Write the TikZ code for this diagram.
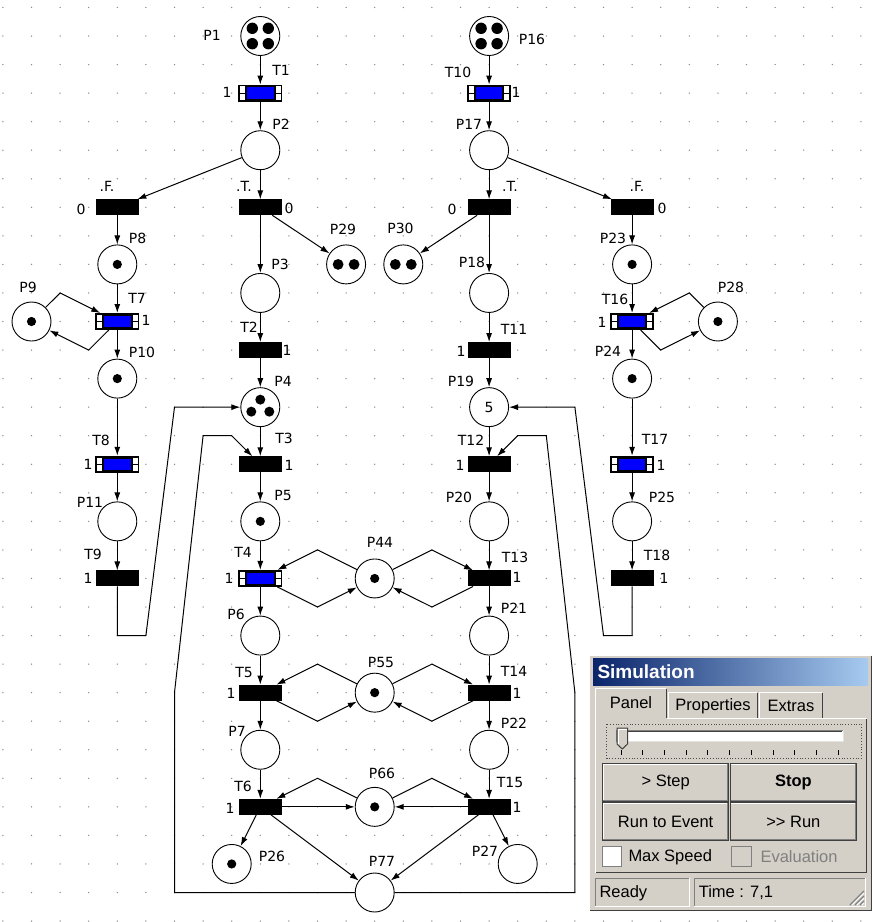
\documentclass[tikz,border=0pt]{standalone}
\usepackage{fontspec}
\newfontfamily\netfont{DejaVu Sans}
\newfontfamily\uifont{Liberation Sans}
\usetikzlibrary{arrows.meta}
\definecolor{tokblue}{RGB}{0,0,255}
\definecolor{panelbg}{RGB}{212,208,200}
\definecolor{titleL}{RGB}{10,36,106}
\definecolor{titleR}{RGB}{166,202,240}
\definecolor{shadowc}{RGB}{64,64,64}
\definecolor{midshadow}{RGB}{128,128,128}
\definecolor{griddot}{RGB}{140,140,140}
\begin{document}
\begin{tikzpicture}[x=1pt,y=-1pt,line width=1pt,
  arc/.style={-{Latex[length=9pt,width=6pt]}},
  place/.style={circle,draw,fill=white,minimum size=39pt,inner sep=0pt,line width=0.9pt,font=\netfont\fontsize{14}{16}\selectfont},
  trans/.style={rectangle,draw,fill=black,minimum width=42pt,minimum height=15pt,inner sep=0pt},
  tblue/.style={rectangle,draw,fill=black,minimum width=43pt,minimum height=16pt,inner sep=0pt,
    path picture={
      \fill[white] ([xshift=1.3pt,yshift=1.3pt]path picture bounding box.south west) rectangle ([xshift=6.3pt,yshift=-0.6pt]path picture bounding box.west);
      \fill[white] ([xshift=1.3pt,yshift=0.6pt]path picture bounding box.west) rectangle ([xshift=6.3pt,yshift=-1.3pt]path picture bounding box.north west);
      \fill[white] ([xshift=-1.3pt,yshift=1.3pt]path picture bounding box.south east) rectangle ([xshift=-6.3pt,yshift=-0.6pt]path picture bounding box.east);
      \fill[white] ([xshift=-1.3pt,yshift=0.6pt]path picture bounding box.east) rectangle ([xshift=-6.3pt,yshift=-1.3pt]path picture bounding box.north east);
      \fill[tokblue] ([xshift=8.3pt,yshift=2.3pt]path picture bounding box.south west) rectangle ([xshift=-8.3pt,yshift=-2.3pt]path picture bounding box.north east);
    }},
  tok1/.style={path picture={\fill[black] (path picture bounding box.center) circle (4.6pt);}},
  tok2/.style={path picture={\fill[black] ([xshift=-8pt]path picture bounding box.center) circle (5.4pt);
     \fill[black] ([xshift=8pt]path picture bounding box.center) circle (5.4pt);}},
  tok3/.style={path picture={\fill[black] ([yshift=7.5pt]path picture bounding box.center) circle (5pt);
     \fill[black] ([xshift=-9pt,yshift=-4.5pt]path picture bounding box.center) circle (5pt);
     \fill[black] ([xshift=9pt,yshift=-4.5pt]path picture bounding box.center) circle (5pt);}},
  tok4/.style={path picture={\fill[black] ([xshift=-8pt,yshift=7.7pt]path picture bounding box.center) circle (5.7pt);
     \fill[black] ([xshift=8pt,yshift=7.7pt]path picture bounding box.center) circle (5.7pt);
     \fill[black] ([xshift=-8pt,yshift=-7.7pt]path picture bounding box.center) circle (5.7pt);
     \fill[black] ([xshift=8pt,yshift=-7.7pt]path picture bounding box.center) circle (5.7pt);}},
  lbl/.style={font=\netfont\fontsize{14}{16}\selectfont,inner sep=0pt},
  ui/.style={font=\uifont\fontsize{16.5}{19}\selectfont,inner sep=0pt},
  btn/.style={rectangle,fill=panelbg,draw=shadowc,line width=1pt,inner sep=0pt,
    minimum width=126.5pt,minimum height=38.2pt,font=\uifont\fontsize{16.5}{19}\selectfont,
    path picture={
      \draw[white,line width=2.6pt] (path picture bounding box.south west) -- (path picture bounding box.north west) -- (path picture bounding box.north east);
      \draw[midshadow,line width=3.6pt] (path picture bounding box.north east) -- (path picture bounding box.south east) -- (path picture bounding box.south west);
    }}
]
\useasboundingbox[fill=white] (0,0) rectangle (873,922);
% grid dots
\foreach \c in {-9,...,21} {\foreach \r in {-1,...,31} {
  \fill[griddot] ({260.3+28.6*\c},{36+28.55*\r}) circle (0.75pt);}}

% ---------- places ----------
\node[place,tok4] (P1) at (260.3,36) {};
\node[place] (P2) at (260.3,150.2) {};
\node[place] (P3) at (260.3,292.95) {};
\node[place,tok3] (P4) at (260.3,407.15) {};
\node[place,tok1] (P5) at (260.3,521.35) {};
\node[place] (P6) at (260.3,635.55) {};
\node[place] (P7) at (260.3,749.75) {};
\node[place,tok1] (P8) at (117.3,264.4) {};
\node[place,tok1] (P9) at (31.5,321.5) {};
\node[place,tok1] (P10) at (117.3,378.6) {};
\node[place] (P11) at (117.3,521.35) {};
\node[place,tok4] (P16) at (489.1,36) {};
\node[place] (P17) at (489.1,150.2) {};
\node[place] (P18) at (489.1,292.95) {};
\node[place] (P19) at (489.1,407.15) {5};
\node[place] (P20) at (489.1,521.35) {};
\node[place] (P21) at (489.1,635.55) {};
\node[place] (P22) at (489.1,749.75) {};
\node[place,tok1] (P23) at (632.1,264.4) {};
\node[place,tok1] (P24) at (632.1,378.6) {};
\node[place] (P25) at (632.1,521.35) {};
\node[place,tok1] (P26) at (231.7,863.95) {};
\node[place] (P27) at (517.7,863.95) {};
\node[place,tok1] (P28) at (717.9,321.5) {};
\node[place,tok2] (P29) at (346.1,264.4) {};
\node[place,tok2] (P30) at (403.3,264.4) {};
\node[place,tok1] (P44) at (374.7,578.45) {};
\node[place,tok1] (P55) at (374.7,692.65) {};
\node[place,tok1] (P66) at (374.7,806.85) {};
\node[place] (P77) at (374.7,892.5) {};

% ---------- transitions ----------
\node[tblue] (T1) at (260.3,93.1) {};
\node[tblue] (T10) at (489.1,93.1) {};
\node[trans] (TT1) at (260.3,207.3) {};
\node[trans] (TF1) at (117.3,207.3) {};
\node[trans] (TT2) at (489.1,207.3) {};
\node[trans] (TF2) at (632.1,207.3) {};
\node[tblue] (T7) at (117.3,321.5) {};
\node[tblue] (T16) at (632.1,321.5) {};
\node[trans] (T2) at (260.3,350.05) {};
\node[trans] (T11) at (489.1,350.05) {};
\node[tblue] (T8) at (117.3,464.25) {};
\node[tblue] (T17) at (632.1,464.25) {};
\node[trans] (T3) at (260.3,464.25) {};
\node[trans] (T12) at (489.1,464.25) {};
\node[trans] (T9) at (117.3,578.45) {};
\node[trans] (T18) at (632.1,578.45) {};
\node[tblue] (T4) at (260.3,578.45) {};
\node[trans] (T13) at (489.1,578.45) {};
\node[trans] (T5) at (260.3,692.65) {};
\node[trans] (T14) at (489.1,692.65) {};
\node[trans] (T6) at (260.3,806.85) {};
\node[trans] (T15) at (489.1,806.85) {};

% ---------- bend points ----------
\coordinate (a1) at (117.3,635.55);
\coordinate (a2) at (145.9,635.55);
\coordinate (a3) at (174.5,407.15);
\coordinate (b1) at (632.1,635.55);
\coordinate (b2) at (603.5,635.55);
\coordinate (b3) at (574.9,407.15);
\coordinate (c1) at (174.5,892.5);
\coordinate (c2) at (174.5,692.65);
\coordinate (c3) at (203.1,435.7);
\coordinate (c4) at (231.7,435.7);
\coordinate (d1) at (574.9,892.5);
\coordinate (d2) at (574.9,692.65);
\coordinate (d3) at (546.3,435.7);
\coordinate (d4) at (517.7,435.7);
\coordinate (e1) at (60.1,292.95);
\coordinate (e2) at (88.7,350.05);
\coordinate (f1) at (689.3,292.95);
\coordinate (f2) at (660.7,350.05);
\coordinate (g1) at (317.5,549.9);
\coordinate (g2) at (317.5,607);
\coordinate (g3) at (431.9,549.9);
\coordinate (g4) at (431.9,607);
\coordinate (h1) at (317.5,664.1);
\coordinate (h2) at (317.5,721.2);
\coordinate (h3) at (431.9,664.1);
\coordinate (h4) at (431.9,721.2);
\coordinate (k1) at (317.5,778.3);
\coordinate (k2) at (431.9,778.3);

% ---------- arcs: left half ----------
\draw[arc] (P1) -- (T1);
\draw[arc] (T1) -- (P2);
\draw[arc] (P2) -- (TT1);
\draw[arc] (P2) -- (TF1);
\draw[arc] (TT1) -- (P3);
\draw[arc] (TT1) -- (P29);
\draw[arc] (P3) -- (T2);
\draw[arc] (T2) -- (P4);
\draw[arc] (P4) -- (T3);
\draw[arc] (T3) -- (P5);
\draw[arc] (P5) -- (T4);
\draw[arc] (T4) -- (P6);
\draw[arc] (P6) -- (T5);
\draw[arc] (T5) -- (P7);
\draw[arc] (P7) -- (T6);
\draw[arc] (T6) -- (P26);
\draw[arc] (T6) -- (P77);
\draw[arc] (T6) -- (P66);
\draw[arc] (TF1) -- (P8);
\draw[arc] (P8) -- (T7);
\draw[arc] (T7) -- (P10);
\draw[arc] (P10) -- (T8);
\draw[arc] (T8) -- (P11);
\draw[arc] (P11) -- (T9);
\draw[arc] (T9) -- (a1) -- (a2) -- (a3) -- (P4);
\draw[arc] (P9) -- (e1) -- (T7);
\draw[arc] (T7) -- (e2) -- (P9);
\draw[arc] (P77) -- (c1) -- (c2) -- (c3) -- (c4) -- (T3);
% ---------- arcs: right half ----------
\draw[arc] (P16) -- (T10);
\draw[arc] (T10) -- (P17);
\draw[arc] (P17) -- (TT2);
\draw[arc] (P17) -- (TF2);
\draw[arc] (TT2) -- (P18);
\draw[arc] (TT2) -- (P30);
\draw[arc] (P18) -- (T11);
\draw[arc] (T11) -- (P19);
\draw[arc] (P19) -- (T12);
\draw[arc] (T12) -- (P20);
\draw[arc] (P20) -- (T13);
\draw[arc] (T13) -- (P21);
\draw[arc] (P21) -- (T14);
\draw[arc] (T14) -- (P22);
\draw[arc] (P22) -- (T15);
\draw[arc] (T15) -- (P27);
\draw[arc] (T15) -- (P77);
\draw[arc] (T15) -- (P66);
\draw[arc] (TF2) -- (P23);
\draw[arc] (P23) -- (T16);
\draw[arc] (T16) -- (P24);
\draw[arc] (P24) -- (T17);
\draw[arc] (T17) -- (P25);
\draw[arc] (P25) -- (T18);
\draw[arc] (T18) -- (b1) -- (b2) -- (b3) -- (P19);
\draw[arc] (P28) -- (f1) -- (T16);
\draw[arc] (T16) -- (f2) -- (P28);
\draw[arc] (P77) -- (d1) -- (d2) -- (d3) -- (d4) -- (T12);
% ---------- shared places ----------
\draw[arc] (P44) -- (g1) -- (T4);
\draw[arc] (T4) -- (g2) -- (P44);
\draw[arc] (P44) -- (g3) -- (T13);
\draw[arc] (T13) -- (g4) -- (P44);
\draw[arc] (P55) -- (h1) -- (T5);
\draw[arc] (T5) -- (h2) -- (P55);
\draw[arc] (P55) -- (h3) -- (T14);
\draw[arc] (T14) -- (h4) -- (P55);
\draw[arc] (P66) -- (k1) -- (T6);
\draw[arc] (P66) -- (k2) -- (T15);

% ---------- labels ----------
\node[lbl] (lP1) at (212,35) {P1};
\node[lbl] (lT1) at (281,70) {T1};
\node[lbl] (lT1n) at (227,92) {1};
\node[lbl] (lP2) at (281,124) {P2};
\node[lbl] (lP16) at (532,39) {P16};
\node[lbl] (lT10) at (458,72) {T10};
\node[lbl] (lT10n) at (516,92) {1};
\node[lbl] (lP17) at (469,124) {P17};
\node[lbl] (lF1) at (107,186) {.F.};
\node[lbl] (lF1n) at (81,209) {0};
\node[lbl] (lT1t) at (244,186) {.T.};
\node[lbl] (lT1tn) at (289,208) {0};
\node[lbl] (lP8) at (137.5,238) {P8};
\node[lbl] (lP3) at (280,264) {P3};
\node[lbl] (lP9) at (28,287) {P9};
\node[lbl] (lT7) at (137,298) {T7};
\node[lbl] (lT7n) at (146,320) {1};
\node[lbl] (lT2) at (249,327) {T2};
\node[lbl] (lT2n) at (287,350) {1};
\node[lbl] (lP10) at (142,352) {P10};
\node[lbl] (lP29) at (343,229) {P29};
\node[lbl] (lP30) at (400.5,228) {P30};
\node[lbl] (lT2tn) at (452,209) {0};
\node[lbl] (lT2t) at (510,186) {.T.};
\node[lbl] (lF2) at (637,186) {.F.};
\node[lbl] (lF2n) at (662,208) {0};
\node[lbl] (lP23) at (613,238) {P23};
\node[lbl] (lP18) at (472,262) {P18};
\node[lbl] (lT16) at (615,299) {T16};
\node[lbl] (lT16n) at (602,322) {1};
\node[lbl] (lP28) at (731,287) {P28};
\node[lbl] (lT11) at (514,329) {T11};
\node[lbl] (lT11n) at (461,351) {1};
\node[lbl] (lP24) at (608,351) {P24};
\node[lbl] (lT8) at (101,440) {T8};
\node[lbl] (lT8n) at (88,464) {1};
\node[lbl] (lP11) at (90,502) {P11};
\node[lbl] (lT9) at (93,554) {T9};
\node[lbl] (lT9n) at (88,578) {1};
\node[lbl] (lP4) at (283,381) {P4};
\node[lbl] (lT3) at (284,438) {T3};
\node[lbl] (lT3n) at (289,465) {1};
\node[lbl] (lP5) at (283,495) {P5};
\node[lbl] (lT4) at (243,552) {T4};
\node[lbl] (lT4n) at (229,578) {1};
\node[lbl] (lP6) at (236,614) {P6};
\node[lbl] (lP19) at (461,381) {P19};
\node[lbl] (lT12) at (471,440) {T12};
\node[lbl] (lT12n) at (460,465) {1};
\node[lbl] (lP20) at (459,497) {P20};
\node[lbl] (lT17) at (655,439) {T17};
\node[lbl] (lT17n) at (661,465) {1};
\node[lbl] (lP25) at (662,497) {P25};
\node[lbl] (lT13) at (515,557) {T13};
\node[lbl] (lT13n) at (517,577) {1};
\node[lbl] (lT18) at (657,555) {T18};
\node[lbl] (lT18n) at (664,578) {1};
\node[lbl] (lP21) at (514,608) {P21};
\node[lbl] (lP44) at (380,542) {P44};
\node[lbl] (lP55) at (381,662) {P55};
\node[lbl] (lT5) at (244,672) {T5};
\node[lbl] (lT5n) at (231,693) {1};
\node[lbl] (lT14) at (514,671) {T14};
\node[lbl] (lT14n) at (517,693) {1};
\node[lbl] (lP7) at (237,731) {P7};
\node[lbl] (lP22) at (514,723) {P22};
\node[lbl] (lT6) at (243,786) {T6};
\node[lbl] (lT6n) at (230,808) {1};
\node[lbl] (lP66) at (382,773) {P66};
\node[lbl] (lT15) at (510,782) {T15};
\node[lbl] (lT15n) at (517,807) {1};
\node[lbl] (lP26) at (272,856) {P26};
\node[lbl] (lP77) at (382,861) {P77};
\node[lbl] (lP27) at (485,851) {P27};

% ---------- simulation panel ----------
\fill[panelbg] (589,655) rectangle (872,911);
\draw[white] (589.5,910.5) -- (589.5,655.5) -- (871.5,655.5);
\draw[shadowc] (871.5,655.5) -- (871.5,910.5) -- (589.5,910.5);
\shade[left color=titleL,right color=titleR] (593,658) rectangle (868,685);
\node[anchor=west,text=white,inner sep=0pt,font=\uifont\bfseries\fontsize{19}{22}\selectfont] (simTitle) at (597,671.5) {Simulation};
% tabs
\draw[white] (595.5,719) -- (595.5,688.5) -- (666,688.5);
\draw[shadowc] (666.5,689) -- (666.5,718);
\draw[white] (668.5,718) -- (668.5,692.5) -- (757,692.5);
\draw[shadowc] (757.5,693) -- (757.5,718);
\draw[white] (759.5,718) -- (759.5,692.5) -- (822,692.5);
\draw[shadowc] (822.5,693) -- (822.5,718);
\draw[white] (595.5,872.5) -- (595.5,718.5);
\draw[white] (667,718.5) -- (866.5,718.5);
\draw[shadowc] (866.5,718.5) -- (866.5,872.5) -- (595.5,872.5);
\node[ui] (tabPanel) at (631,703) {Panel};
\node[ui] (tabProp) at (713,706) {Properties};
\node[ui] (tabExtras) at (791,706) {Extras};
% slider
\draw[black!70,line width=0.8pt,dotted] (606.7,724) rectangle (861.7,758);
\fill[white] (616.7,730) rectangle (843.3,741.7);
\draw[midshadow] (616.7,741.7) -- (616.7,730) -- (843.3,730);
\draw[shadowc] (617.7,740.7) -- (617.7,731) -- (842.3,731);
\draw[panelbg!60!white] (843.3,730) -- (843.3,741.7) -- (616.7,741.7);
\filldraw[fill=panelbg,draw=shadowc] (617,728) -- (627.5,728) -- (627.5,744) -- (622.25,749) -- (617,744) -- cycle;
\draw[white] (618,743.5) -- (618,729) -- (626.5,729);
\foreach \i in {0,...,10} {\draw[black] ({621+21.73*\i},750) -- ({621+21.73*\i},755);}
% buttons
\node[btn] (bStep) at (665.65,782.5) {> Step};
\node[btn,font=\uifont\bfseries\fontsize{16.5}{19}\selectfont] (bStop) at (793.35,782.5) {Stop};
\node[btn] (bEvent) at (665.65,821.7) {Run to Event};
\node[btn] (bRun) at (793.35,821.7) {>\kern0pt> Run};
% checkboxes
\node[rectangle,fill=white,draw=midshadow,minimum size=19.5pt,inner sep=0pt] (cbMax) at (612,856.7) {};
\node[ui,anchor=west] (lMax) at (628,857) {Max Speed};
\node[rectangle,fill=panelbg,draw=midshadow,minimum size=19.5pt,inner sep=0pt] (cbEval) at (741.7,856.7) {};
\node[ui,anchor=west,text=midshadow] (lEval) at (760,857) {Evaluation};
% status bar
\draw[midshadow] (595,906.7) -- (595,878.3) -- (689,878.3);
\draw[white] (689,878.3) -- (689,906.7) -- (595,906.7);
\draw[midshadow] (694,906.7) -- (694,878.3) -- (865,878.3);
\draw[white] (865,878.3) -- (865,906.7) -- (694,906.7);
\node[ui,anchor=west] (stReady) at (599,893) {Ready};
\node[ui,anchor=west] (stTime) at (698.3,893) {Time : 7,1};
\foreach \o in {0,5,10} {
  \draw[midshadow,line width=1.2pt] ({850+\o},905) -- (864,{891+\o});
  \draw[white,line width=0.8pt] ({852+\o},905) -- (864,{893+\o});
}
\end{tikzpicture}
\end{document}
